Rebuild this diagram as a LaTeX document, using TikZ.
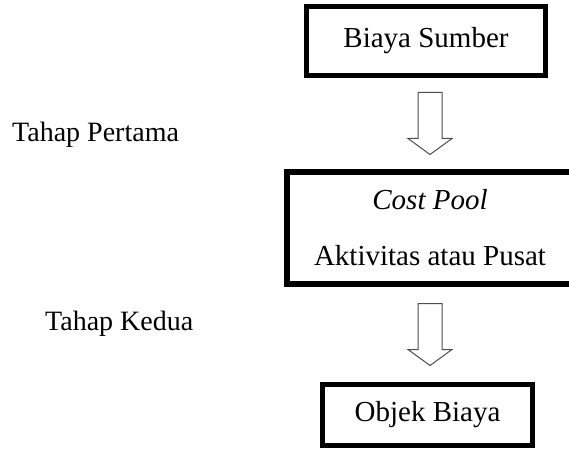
\documentclass[tikz,border=0pt]{standalone}
\usepackage{fontspec}
\setmainfont{Liberation Serif}
\usetikzlibrary{calc}

\tikzset{
  stagebox/.style={draw,line width=5pt,inner sep=0pt,font=\fontsize{29}{35}\selectfont},
  stagelabel/.style={anchor=base west,inner sep=0pt,font=\fontsize{28}{34}\selectfont},
  hollow/.style={draw=black!70,line width=1pt,fill=white}
}
\newcommand{\bigdown}[2]{%
  \path ($(#1.south)!.5!(#2.north)$) coordinate (m);
  \draw[hollow] (430,0 |- m) ++(-12,31) -- ++(24,0) -- ++(0,-46) -- ++(10,0)
    -- ++(-22,-16) -- ++(-22,16) -- ++(10,0) -- cycle;}

\begin{document}
\begin{tikzpicture}[x=1pt,y=1pt]
\useasboundingbox (0,0) rectangle (569,450);
\node[stagebox,minimum width=239,minimum height=69] (src) at (426,409) {Biaya Sumber};
% box runs past the right edge of the page
\node[stagebox,draw=none,outer sep=3pt,minimum width=287,minimum height=112,align=center,
  font=\fontsize{29}{56}\selectfont] (pool) at (430,222) {\textit{Cost Pool}\\Aktivitas atau Pusat};
\draw[line width=6pt] ([shift={(3,3)}]pool.south west) rectangle ([shift={(20,-3)}]pool.north east);
\node[stagebox,minimum width=210,minimum height=61] (obj) at (427.5,35) {Objek Biaya};
\node[stagelabel] (first) at (12,308) {Tahap Pertama};
\node[stagelabel] (second) at (45,120) {Tahap Kedua};
\bigdown{src}{pool}
\bigdown{pool}{obj}
\end{tikzpicture}
\end{document}
